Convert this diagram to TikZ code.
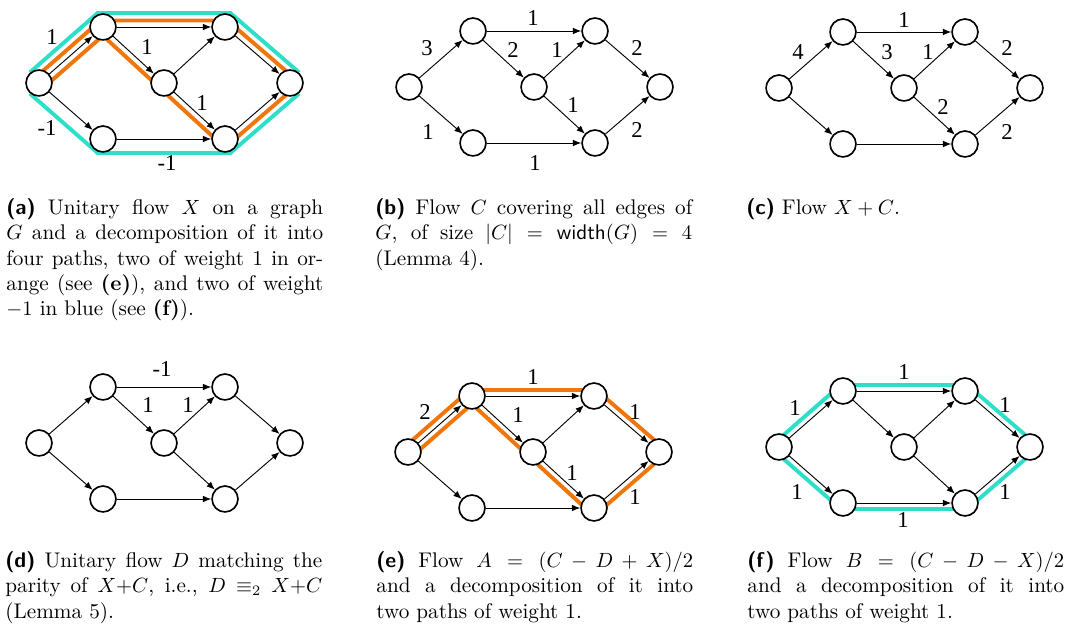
\documentclass[tikz,border=0pt]{standalone}
\usepackage{amsmath, amssymb}
\usepackage{fontspec}
\usepackage{tikz}
\usetikzlibrary{arrows.meta, calc, backgrounds}
\newfontfamily\weightfont{Liberation Serif}
\definecolor{hlorange}{RGB}{240,118,12}
\definecolor{hlblue}{RGB}{45,222,200}
% the graph G, #1 = name prefix, #2 = position of the source
\newcommand{\flowgraph}[2]{%
  \begin{scope}[shift={#2}]
    \node[vx] (#1-s) at (0,0) {};
    \node[vx] (#1-ul) at (64,-56) {};
    \node[vx] (#1-ll) at (64,56) {};
    \node[vx] (#1-m) at (125,0) {};
    \node[vx] (#1-ur) at (186,-56) {};
    \node[vx] (#1-lr) at (186,56) {};
    \node[vx] (#1-t) at (251,0) {};
    \draw[fe] (#1-s) -- (#1-ul);
    \draw[fe] (#1-s) -- (#1-ll);
    \draw[fe] (#1-ul) -- (#1-ur);
    \draw[fe] (#1-ul) -- (#1-m);
    \draw[fe] (#1-m) -- (#1-ur);
    \draw[fe] (#1-m) -- (#1-lr);
    \draw[fe] (#1-ll) -- (#1-lr);
    \draw[fe] (#1-ur) -- (#1-t);
    \draw[fe] (#1-lr) -- (#1-t);
  \end{scope}}

\begin{document}
\begin{tikzpicture}[x=0.486pt, y=-0.486pt,
  vx/.style={circle, draw, line width=0.8pt, fill=white, minimum size=12.6pt, inner sep=0pt},
  fe/.style={-{Latex[length=4pt, width=3.2pt]}, line width=0.45pt},
  wt/.style={font=\weightfont\fontsize{11}{13}\selectfont, inner sep=0pt},
  hlo/.style={hlorange, line width=1.9pt},
  hlb/.style={hlblue, line width=1.9pt},
  captext/.style={anchor=north west, inner sep=0pt, text width=154pt, align=justify, font=\fontsize{10.3}{12.35}\selectfont}]
\useasboundingbox (0,0) rectangle (1073,626);

% (a)
\flowgraph{a}{(39,83)}
\node[wt] (a-w1) at (52,37) {1};
\node[wt] (a-w2) at (47,128) {-1};
\node[wt] (a-w3) at (147,47) {1};
\node[wt] (a-w4) at (202,103) {1};
\node[wt] (a-w5) at (167,163) {-1};
\begin{scope}[on background layer]
  \draw[hlb] ($(a-s)+(-9.2,-10.5)$) -- ($(a-ul)+(-5.3,-14)$) -- ($(a-ur)+(5.3,-14)$) -- ($(a-t)+(9.2,-10.5)$);
  \draw[hlb] ($(a-s)+(-9.2,10.5)$) -- ($(a-ll)+(-5.3,14)$) -- ($(a-lr)+(5.3,14)$) -- ($(a-t)+(9.2,10.5)$);
  \draw[hlo] ($(a-s)+(-4.3,-4.9)$) -- ($(a-ul)+(-2.4,-6.5)$) -- ($(a-ur)+(2.4,-6.5)$) -- ($(a-t)+(4.3,-4.9)$);
  \draw[hlo] ($(a-s)+(4.3,4.9)$) -- ($(a-ul)+(-0.1,8.7)$) -- ($(a-lr)+(-0.1,8.7)$) -- ($(a-t)+(4.2,4.9)$);
\end{scope}
\node[captext] (a-cap) at (6,198) {\textsf{\textbf{(a)}} Unitary flow $X$ on a graph\linebreak $G$ and a decomposition of it into\linebreak four paths, two of weight 1 in or-\linebreak ange (see \textbf{(e)}), and two of weight\linebreak $-1$ in blue (see \textbf{(f)}).};

% (b)
\flowgraph{b}{(409,87)}
\node[wt] (b-w1) at (427,48) {3};
\node[wt] (b-w2) at (533,18) {1};
\node[wt] (b-w3) at (513,50) {2};
\node[wt] (b-w4) at (557,50) {1};
\node[wt] (b-w5) at (637,48) {2};
\node[wt] (b-w6) at (428,132) {1};
\node[wt] (b-w7) at (573,105) {1};
\node[wt] (b-w8) at (535,163) {1};
\node[wt] (b-w9) at (637,130) {2};
\node[captext] (b-cap) at (375,198) {\textsf{\textbf{(b)}} Flow $C$ covering all edges of\linebreak $G$, of size $|C| = \mathsf{width}(G) = 4$\linebreak (Lemma 4).};

% (c)
\flowgraph{c}{(779,88)}
\node[wt] (c-w1) at (798,52) {4};
\node[wt] (c-w2) at (904,20) {1};
\node[wt] (c-w3) at (887,52) {3};
\node[wt] (c-w4) at (928,52) {1};
\node[wt] (c-w5) at (1007,48) {2};
\node[wt] (c-w6) at (943,107) {2};
\node[wt] (c-w7) at (1007,132) {2};
\node[captext] (c-cap) at (746,198) {\textsf{\textbf{(c)}} Flow $X + C$.};

% (d)
\flowgraph{d}{(39,443)}
\node[wt] (d-w1) at (162,369) {-1};
\node[wt] (d-w2) at (148,405) {1};
\node[wt] (d-w3) at (188,405) {1};
\node[captext] (d-cap) at (5,551) {\textsf{\textbf{(d)}} Unitary flow $D$ matching the\linebreak parity of $X{+}C$, i.e., $D \equiv_2 X{+}C$\linebreak (Lemma 5).};

% (e)
\flowgraph{e}{(408,452)}
\node[wt] (e-w1) at (425,412) {2};
\node[wt] (e-w2) at (533,377) {1};
\node[wt] (e-w3) at (518,415) {1};
\node[wt] (e-w4) at (635,412) {1};
\node[wt] (e-w5) at (572,473) {1};
\node[wt] (e-w6) at (635,497) {1};
\begin{scope}[on background layer]
  \draw[hlo] ($(e-s)+(-4,-4.5)$) -- ($(e-ul)+(-2.3,-6)$) -- ($(e-ur)+(2.3,-6)$) -- ($(e-t)+(4,-4.5)$);
  \draw[hlo] ($(e-s)+(4,4.5)$) -- ($(e-ul)+(-0.1,8)$) -- ($(e-lr)+(-0.1,8)$) -- ($(e-t)+(3.9,4.5)$);
\end{scope}
\node[captext] (e-cap) at (376,551) {\textsf{\textbf{(e)}} Flow $A = (C - D + X)/2$\linebreak and a decomposition of it into\linebreak two paths of weight 1.};

% (f)
\flowgraph{f}{(779,447)}
\node[wt] (f-w1) at (795,408) {1};
\node[wt] (f-w2) at (904,372) {1};
\node[wt] (f-w3) at (1005,405) {1};
\node[wt] (f-w4) at (797,492) {1};
\node[wt] (f-w5) at (903,520) {1};
\node[wt] (f-w6) at (1005,492) {1};
\begin{scope}[on background layer]
  \draw[hlb] ($(f-s)+(-4,-4.5)$) -- ($(f-ul)+(-2.3,-6)$) -- ($(f-ur)+(2.3,-6)$) -- ($(f-t)+(4,-4.5)$);
  \draw[hlb] ($(f-s)+(-4,4.5)$) -- ($(f-ll)+(-2.3,6)$) -- ($(f-lr)+(2.3,6)$) -- ($(f-t)+(4,4.5)$);
\end{scope}
\node[captext] (f-cap) at (747,551) {\textsf{\textbf{(f)}} Flow $B = (C - D - X)/2$\linebreak and a decomposition of it into\linebreak two paths of weight 1.};
\end{tikzpicture}
\end{document}
